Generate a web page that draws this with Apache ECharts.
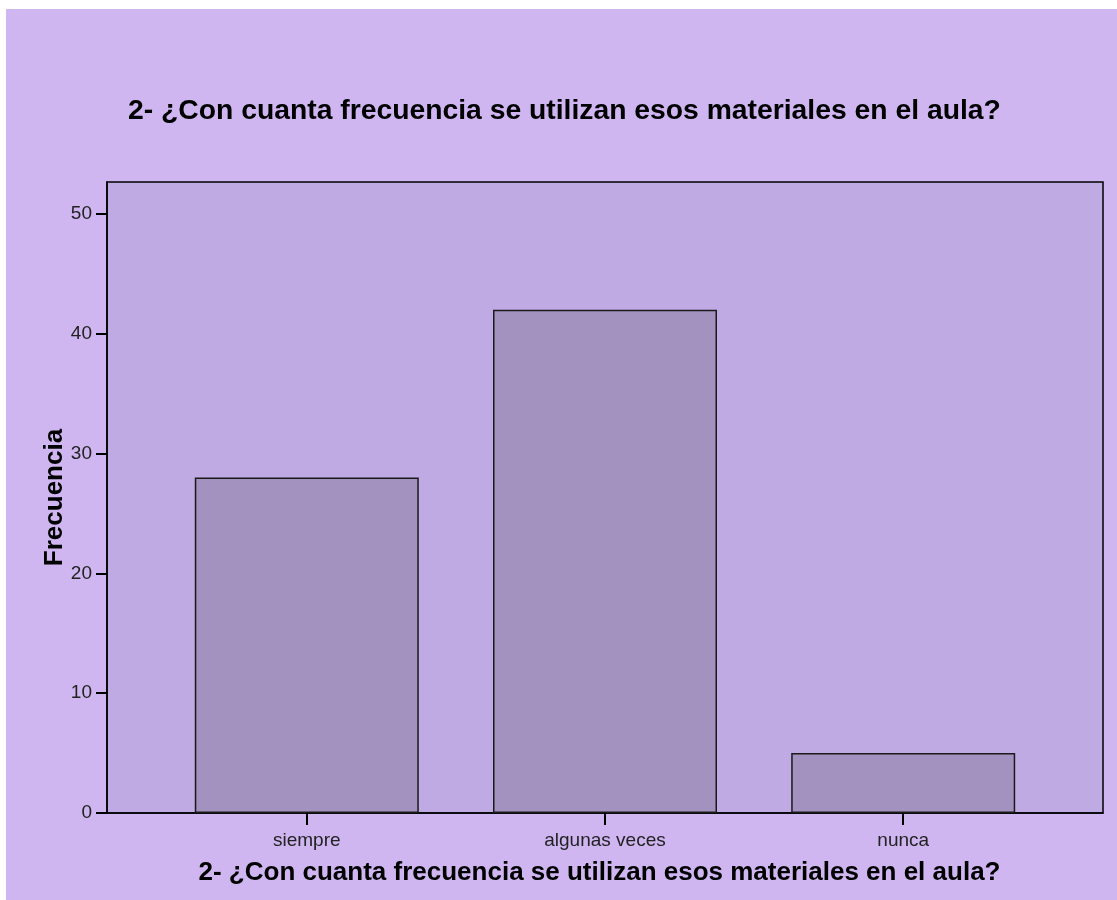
<!DOCTYPE html>
<html>
<head>
<meta charset="utf-8">
<script src="https://cdn.jsdelivr.net/npm/echarts@6/dist/echarts.min.js"></script>
<style>
html,body{margin:0;padding:0;background:#fff;width:1117px;height:900px;overflow:hidden;}
#chart{position:absolute;left:6px;top:9px;width:1111px;height:891px;}
</style>
</head>
<body>
<div id="chart"></div>
<script>
const categories = ['siempre', 'algunas veces', 'nunca'];
const frequencies = [28, 42, 5];
const yTicks = [0, 10, 20, 30, 40, 50];
const titleText = '2- ¿Con cuanta frecuencia se utilizan esos materiales en el aula?';
const yName = 'Frecuencia';

const chart = echarts.init(document.getElementById('chart'));
const catIdx = categories.map((c, i) => i);
const option = {
  backgroundColor: '#CFB6F1',
  animation: false,
  textStyle: { fontFamily: 'Liberation Sans, Arial, sans-serif' },
  title: {
    text: titleText,
    left: 122,
    top: 88,
    padding: 0,
    textStyle: { fontSize: 28.3, fontWeight: 'bold', color: '#000', fontFamily: 'Liberation Sans, Arial, sans-serif' }
  },
  grid: {
    left: 101, top: 173, right: 14, bottom: 87,
    show: true, backgroundColor: '#BFAAE3', borderColor: '#000', borderWidth: 1.5
  },
  xAxis: {
    type: 'value',
    min: -0.67, max: 2.67,
    name: titleText,
    nameLocation: 'middle',
    nameGap: 47,
    nameMoveOverlap: false,
    nameTextStyle: { fontSize: 26, fontWeight: 'bold', color: '#000', padding: [0, 11, 0, 0] },
    splitLine: { show: false },
    axisLine: { show: true, onZero: false, lineStyle: { color: '#000', width: 1.5 } },
    axisTick: { show: true, customValues: catIdx, length: 12, lineStyle: { color: '#000', width: 2 } },
    axisLabel: { show: true, customValues: catIdx, margin: 18, fontSize: 19, color: '#222', formatter: v => categories[Math.round(v)] }
  },
  yAxis: {
    type: 'value',
    min: 0, max: 52.67,
    name: yName,
    nameLocation: 'middle',
    nameGap: 39,
    nameMoveOverlap: false,
    nameTextStyle: { fontSize: 26, fontWeight: 'bold', color: '#000' },
    splitLine: { show: false },
    axisLine: { show: true, onZero: false, lineStyle: { color: '#000', width: 1.5 } },
    axisTick: { show: true, customValues: yTicks, length: 11, lineStyle: { color: '#000', width: 2 } },
    axisLabel: { show: true, customValues: yTicks, margin: 15, fontSize: 19, color: '#222' }
  },
  series: [{
    type: 'bar',
    barWidth: 224,
    data: frequencies.map((v, i) => [i, v]),
    itemStyle: { color: '#A392C0', borderColor: '#1a1a1a', borderWidth: 1.5 }
  }]
};
chart.setOption(option);
</script>
</body>
</html>
